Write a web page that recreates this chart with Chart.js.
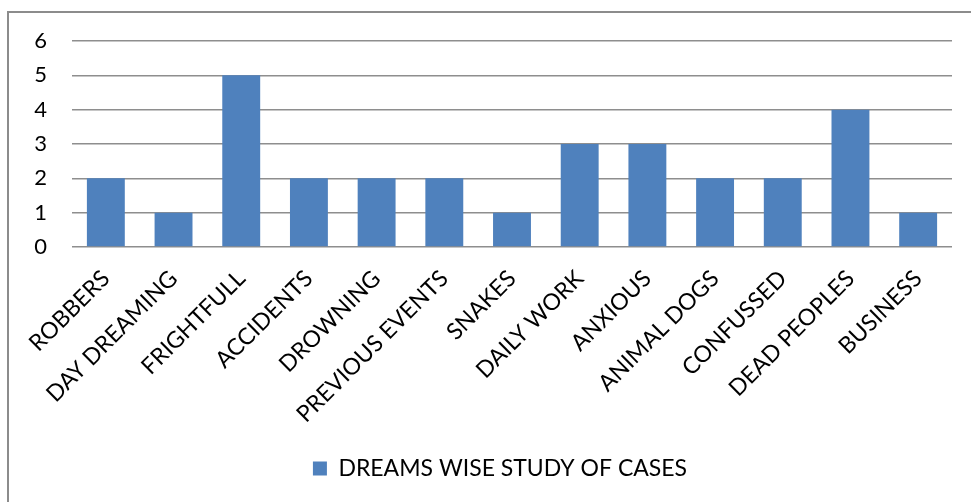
<!DOCTYPE html>
<html>
<head>
<meta charset="utf-8">
<script src="https://cdn.jsdelivr.net/npm/chart.js@4.4.1/dist/chart.umd.min.js"></script>
<style>
  html, body { margin: 0; padding: 0; background: #fff; }
  #wrap { position: relative; width: 971px; height: 502px; overflow: hidden; }
  #frame { position: absolute; left: 7px; top: 11px; width: 2000px; height: 2000px;
           border-left: 2px solid #8c8c8c; border-top: 2px solid #8c8c8c; box-sizing: border-box; }
  canvas { position: absolute; left: 0; top: 0; }
</style>
</head>
<body>
<div id="wrap">
  <div id="frame"></div>
  <canvas id="chart" width="971" height="502"></canvas>
</div>
<script>
const categories = [
  'ROBBERS', 'DAY DREAMING', 'FRIGHTFULL', 'ACCIDENTS', 'DROWNING',
  'PREVIOUS EVENTS', 'SNAKES', 'DAILY WORK', 'ANXIOUS', 'ANIMAL DOGS',
  'CONFUSSED', 'DEAD PEOPLES', 'BUSINESS'
];
const caseCounts = [2, 1, 5, 2, 2, 2, 1, 3, 3, 2, 2, 4, 1];
const seriesName = 'DREAMS WISE STUDY OF CASES';
const yTicks = [0, 1, 2, 3, 4, 5, 6];

const FONT = 'Lato, "Open Sans", sans-serif';

// Nudge the bottom legend so it sits centred under the plot area.
const legendShift = {
  id: 'legendShift',
  afterLayout(chart) {
    const lg = chart.legend;
    if (!lg) return;
    const dx = 24;
    lg.left += dx;
    lg.right += dx;
    (lg.legendHitBoxes || []).forEach(b => { b.left += dx; });
  }
};

new Chart(document.getElementById('chart'), {
  type: 'bar',
  data: {
    labels: categories,
    datasets: [{
      label: seriesName,
      data: caseCounts,
      backgroundColor: '#4F81BD',
      borderWidth: 0,
      barPercentage: 0.56,
      categoryPercentage: 1.0
    }]
  },
  plugins: [legendShift],
  options: {
    responsive: false,
    animation: false,
    layout: { padding: { left: 0, right: 19, top: 41, bottom: 12 } },
    plugins: {
      tooltip: { enabled: false },
      legend: {
        position: 'bottom',
        labels: {
          font: { family: FONT, size: 23 },
          color: '#000',
          boxWidth: 14,
          boxHeight: 14,
          padding: 10
        }
      }
    },
    scales: {
      x: {
        grid: { display: false },
        border: { display: false },
        ticks: {
          font: { family: FONT, size: 23 },
          color: '#000',
          minRotation: 45,
          maxRotation: 45,
          autoSkip: false,
          padding: 10
        },
        afterFit(scale) { scale.height = 200; }
      },
      y: {
        min: 0,
        max: 6,
        afterBuildTicks(scale) { scale.ticks = yTicks.map(v => ({ value: v })); },
        grid: { color: '#8e8e8e', lineWidth: 1.5, drawTicks: false },
        border: { display: false },
        ticks: {
          font: { family: FONT, size: 22 },
          color: '#000',
          padding: 25
        },
        afterFit(scale) { scale.width = 72; }
      }
    }
  }
});
</script>
</body>
</html>
